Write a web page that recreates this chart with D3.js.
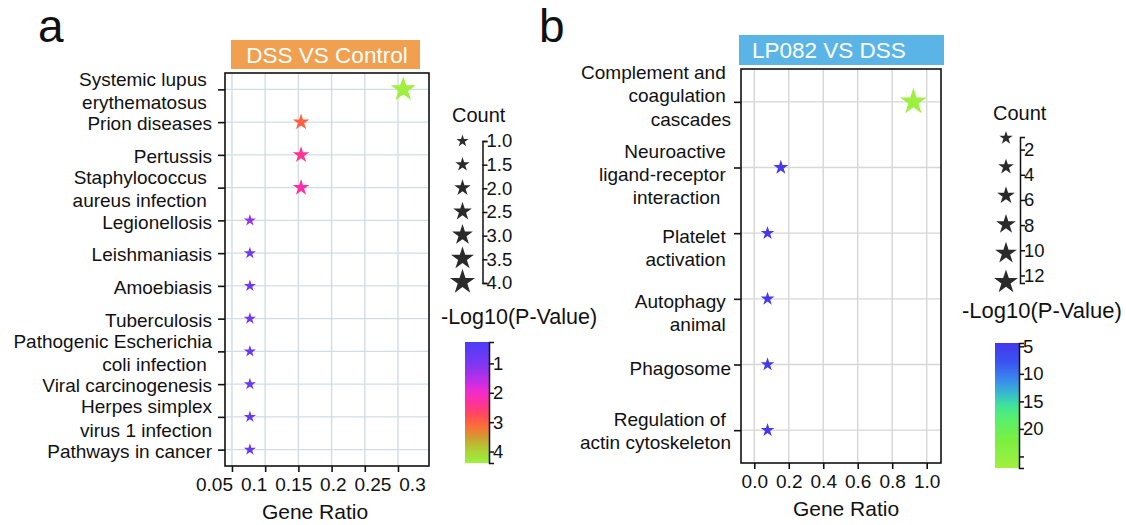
<!DOCTYPE html>
<html>
<head>
<meta charset="utf-8">
<script src="https://cdn.jsdelivr.net/npm/d3@7"></script>
<style>
  body { margin: 0; background: #fff; }
  svg text { font-family: "Liberation Sans", Arial, sans-serif; fill: #111; white-space: pre; }
</style>
</head>
<body>
<svg id="chart" width="1126" height="525"></svg>
<script>
// --- Panel a data (DSS VS Control)
var termsA = [
  "Systemic lupus \nerythematosus ",
  "Prion diseases",
  "Pertussis",
  "Staphylococcus \naureus infection ",
  "Legionellosis",
  "Leishmaniasis",
  "Amoebiasis",
  "Tuberculosis",
  "Pathogenic Escherichia\ncoli infection ",
  "Viral carcinogenesis",
  "Herpes simplex\nvirus 1 infection",
  "Pathways in cancer"
];
var ratioA = [0.308, 0.154, 0.154, 0.154, 0.077, 0.077, 0.077, 0.077, 0.077, 0.077, 0.077, 0.077];
var countA = [4, 2, 2, 2, 1, 1, 1, 1, 1, 1, 1, 1];
var logpA  = [4.35, 3.0, 2.4, 2.25, 1.2, 0.8, 0.8, 0.78, 0.75, 0.75, 0.72, 0.65];
var xTicksA = [0.05, 0.1, 0.15, 0.2, 0.25, 0.3];
var countLegendA = [1.0, 1.5, 2.0, 2.5, 3.0, 3.5, 4.0];
var colorTicksA = [1, 2, 3, 4];
var colorStopsA = [0.27, 1.0, 1.6, 2.0, 2.4, 2.8, 3.1, 3.5, 3.9, 4.39];
var colorsA = ["#4b3cf7", "#7b38f2", "#c22ee6", "#f52ccc", "#ff3392", "#ff4d55", "#ff6a3a", "#d39a30", "#b0cc33", "#9cf23f"];

// --- Panel b data (LP082 VS DSS)
var termsB = [
  "Complement and \ncoagulation \ncascades",
  "Neuroactive \nligand-receptor \ninteraction  ",
  "Platelet \nactivation ",
  "Autophagy \nanimal ",
  "Phagosome",
  "Regulation of \nactin cytoskeleton"
];
var ratioB = [0.923, 0.154, 0.077, 0.077, 0.077, 0.077];
var countB = [12, 2, 1, 1, 1, 1];
var logpB  = [26.5, 4.9, 4.8, 4.7, 4.7, 4.6];
var xTicksB = [0, 0.2, 0.4, 0.6, 0.8, 1.0];
var countLegendB = [2, 4, 6, 8, 10, 12];
var colorTicksB = [5, 10, 15, 20, 25];
var colorStopsB = [4.4, 8, 11, 13.5, 15.5, 18, 22, 27.1];
var colorsB = ["#4636ee", "#3a55ee", "#3a88ee", "#38b8d0", "#3ee0a0", "#55f070", "#7af040", "#a2f040"];

var svg = d3.select('#chart');
var FONT = '"Liberation Sans", Arial, sans-serif';

function starPath(r) {
  // d3 symbolStar: outer radius = sqrt(size * ka)
  var ka = 0.89081309152928522810;
  return d3.symbol(d3.symbolStar, r * r / ka)();
}

function drawPanel(cfg) {
  var g = svg.append('g');
  var p = cfg.plot;

  var x = d3.scaleLinear().domain(cfg.xDomain).range([p.left, p.right]);
  var y = d3.scalePoint().domain(cfg.terms).range([p.top, p.bottom]).padding(0.5);
  var size = d3.scaleLinear().domain(cfg.sizeDomain).range(cfg.sizeRange);
  var color = d3.scaleLinear().domain(cfg.colorStops).range(cfg.colors).clamp(true);

  // panel letter
  g.append('text').attr('x', cfg.letterX).attr('y', 42)
    .style('font-size', '46px').text(cfg.letter);

  // title box
  g.append('rect').attr('x', cfg.box.x).attr('y', cfg.box.y)
    .attr('width', cfg.box.w).attr('height', cfg.box.h).attr('fill', cfg.boxFill);
  g.append('text').attr('x', cfg.box.tx).attr('y', cfg.box.y + cfg.box.h / 2)
    .attr('dy', '0.36em').attr('text-anchor', cfg.box.anchor)
    .style('font-size', '22.5px').style('fill', '#fff').text(cfg.title);

  // grid
  g.append('g').selectAll('line.v').data(cfg.xTicks).enter().append('line')
    .attr('x1', function(d){ return x(d); }).attr('x2', function(d){ return x(d); })
    .attr('y1', p.top).attr('y2', p.bottom)
    .attr('stroke', cfg.gridColor).attr('stroke-width', 1.4);
  g.append('g').selectAll('line.h').data(cfg.terms).enter().append('line')
    .attr('x1', p.left).attr('x2', p.right)
    .attr('y1', function(d){ return y(d); }).attr('y2', function(d){ return y(d); })
    .attr('stroke', cfg.gridColor).attr('stroke-width', 1.4);

  // border
  g.append('rect').attr('x', p.left).attr('y', p.top)
    .attr('width', p.right - p.left).attr('height', p.bottom - p.top)
    .attr('fill', 'none').attr('stroke', '#111').attr('stroke-width', 1.6);

  // x axis
  var xAxis = d3.axisBottom(x).tickValues(cfg.xTicks).tickSize(6).tickSizeOuter(0)
    .tickFormat(cfg.xFormat);
  var ax = g.append('g').attr('transform', 'translate(0,' + p.bottom + ')').call(xAxis);
  ax.select('.domain').remove();
  ax.selectAll('line').attr('stroke', '#111').attr('stroke-width', 1.6);
  ax.selectAll('text').style('font-size', '19px').style('font-family', FONT).attr('fill', '#111')
    .attr('y', 12)
    .attr('x', function(d){ return cfg.xLabelPos ? cfg.xLabelPos(d) - x(d) : 0; });
  g.append('text').attr('x', cfg.xTitleX).attr('y', p.bottom + 53)
    .attr('text-anchor', 'middle').style('font-size', '21px').text('Gene Ratio');

  // y axis ticks + wrapped labels
  var yAxis = d3.axisLeft(y).tickSize(7).tickSizeOuter(0).tickFormat('');
  var ay = g.append('g').attr('transform', 'translate(' + p.left + ',0)').call(yAxis);
  ay.select('.domain').remove();
  ay.selectAll('line').attr('stroke', '#111').attr('stroke-width', 1.6);

  var labels = g.append('g').selectAll('text').data(cfg.terms).enter().append('text')
    .attr('text-anchor', 'end').style('font-size', '19px');
  labels.each(function(d, i) {
    var lines = d.split('\n');
    var t = d3.select(this);
    lines.forEach(function(line, k) {
      t.append('tspan').attr('x', cfg.labelX)
        .attr('y', y(d) + cfg.labelShift[i] + (k - (lines.length - 1) / 2) * 23.3)
        .attr('dy', '0.35em').text(line);
    });
  });

  // stars
  var pts = cfg.terms.map(function(t, i) {
    return { term: t, ratio: cfg.ratio[i], count: cfg.count[i], logp: cfg.logp[i] };
  });
  g.append('g').selectAll('path').data(pts).enter().append('path')
    .attr('d', function(d){ return starPath(size(d.count)); })
    .attr('transform', function(d){ return 'translate(' + x(d.ratio) + ',' + y(d.term) + ')'; })
    .attr('fill', function(d){ return color(d.logp); });

  // --- Count legend
  var L = cfg.legend;
  g.append('text').attr('x', L.titleX).attr('y', L.titleY).attr('dy', '0.35em')
    .style('font-size', '20px').text('Count');
  var ly = d3.scaleLinear().domain(L.bracketDomain).range([L.top, L.bottom]);
  var ay2 = g.append('g').attr('transform', 'translate(' + L.bracketX + ',0)')
    .call(d3.axisRight(ly).tickValues(L.values).tickSize(5).tickSizeOuter(5)
      .tickFormat(L.format));
  ay2.selectAll('line, path').attr('stroke', '#111').attr('stroke-width', 1.5);
  ay2.selectAll('text').style('font-size', '18.5px').style('font-family', FONT)
    .attr('fill', '#111').attr('x', 4);
  var sy = d3.scalePoint().domain(L.values).range([L.starTop, L.starBottom]);
  g.append('g').selectAll('path').data(L.values).enter().append('path')
    .attr('d', function(d){ return starPath(size(d) * L.starScale); })
    .attr('transform', function(d){ return 'translate(' + L.starX + ',' + sy(d) + ')'; })
    .attr('fill', '#2a2a2a');

  // --- Colour bar legend
  var C = cfg.cbar;
  g.append('text').attr('x', C.titleX).attr('y', C.titleY).attr('dy', '0.35em')
    .style('font-size', C.titleSize).text('-Log10(P-Value)');
  var cy = d3.scaleLinear().domain([cfg.colorStops[0], cfg.colorStops[cfg.colorStops.length - 1]])
    .range([C.top, C.bottom]);
  var gradId = 'grad' + cfg.letter;
  var grad = svg.append('defs').append('linearGradient').attr('id', gradId)
    .attr('x1', 0).attr('x2', 0).attr('y1', 0).attr('y2', 1);
  d3.range(0, 1.0001, 0.05).forEach(function(f) {
    grad.append('stop').attr('offset', f)
      .attr('stop-color', color(cy.invert(C.top + f * (C.bottom - C.top))));
  });
  g.append('rect').attr('x', C.x).attr('y', C.top).attr('width', C.w)
    .attr('height', C.bottom - C.top).attr('fill', 'url(#' + gradId + ')');
  var ac = g.append('g').attr('transform', 'translate(' + (C.x + C.w) + ',0)')
    .call(d3.axisRight(cy).tickValues(cfg.colorTicks).tickSize(5).tickSizeOuter(5)
      .tickFormat(C.format));
  ac.selectAll('line, path').attr('stroke', '#111').attr('stroke-width', 1.5);
  ac.selectAll('text').style('font-size', '18.5px').style('font-family', FONT)
    .attr('fill', '#111').attr('x', 4);
}

drawPanel({
  letter: 'a', letterX: 38, title: 'DSS VS Control', boxFill: '#f0a04e',
  box: { x: 231, y: 40, w: 189, h: 29, tx: 327, anchor: 'middle' },
  plot: { left: 225, top: 73, right: 429, bottom: 466 },
  xDomain: [0.0395, 0.3467], xTicks: xTicksA,
  xFormat: function(d){ return String(d); },
  xLabelPos: d3.scaleLinear().domain([0.05, 0.3]).range([214, 412]),
  xTitleX: 315, gridColor: '#d3dde1',
  terms: termsA, ratio: ratioA, count: countA, logp: logpA,
  labelX: 212, labelShift: termsA.map(function(){ return 1.5; }),
  sizeDomain: [1, 4], sizeRange: [6.4, 13.2],
  colorStops: colorStopsA, colors: colorsA, colorTicks: colorTicksA,
  legend: { titleX: 452, titleY: 115, bracketX: 482.5, top: 141, bottom: 283,
    bracketDomain: [1, 4], values: countLegendA, format: d3.format('.1f'),
    starX: 462.5, starTop: 141, starBottom: 282, starScale: 1.0 },
  cbar: { titleX: 441, titleY: 316, titleSize: '21.5px', x: 465, w: 24, top: 342, bottom: 463,
    format: function(d){ return String(d); } }
});

drawPanel({
  letter: 'b', letterX: 539, title: 'LP082 VS DSS', boxFill: '#5ab5e6',
  box: { x: 739, y: 35, w: 205, h: 30, tx: 752, anchor: 'start' },
  plot: { left: 741, top: 69, right: 941, bottom: 463 },
  xDomain: [-0.077, 1.083], xTicks: xTicksB,
  xFormat: d3.format('.1f'), xLabelPos: null,
  xTitleX: 846, gridColor: '#d6d6d6',
  terms: termsB, ratio: ratioB, count: countB, logp: logpB,
  labelX: 731, labelShift: [-6, 7, 15, 14, 4, 1],
  sizeDomain: [1, 12], sizeRange: [7.2, 14],
  colorStops: colorStopsB, colors: colorsB, colorTicks: colorTicksB,
  legend: { titleX: 993, titleY: 113, bracketX: 1020, top: 137, bottom: 283,
    bracketDomain: [1, 12.6], values: countLegendB, format: function(d){ return String(d); },
    starX: 1006, starTop: 138, starBottom: 282, starScale: 0.9 },
  cbar: { titleX: 962, titleY: 310, titleSize: '22px', x: 995, w: 24, top: 343, bottom: 468,
    format: function(d){ return d === 25 ? '' : String(d); } }
});
</script>
</body>
</html>
